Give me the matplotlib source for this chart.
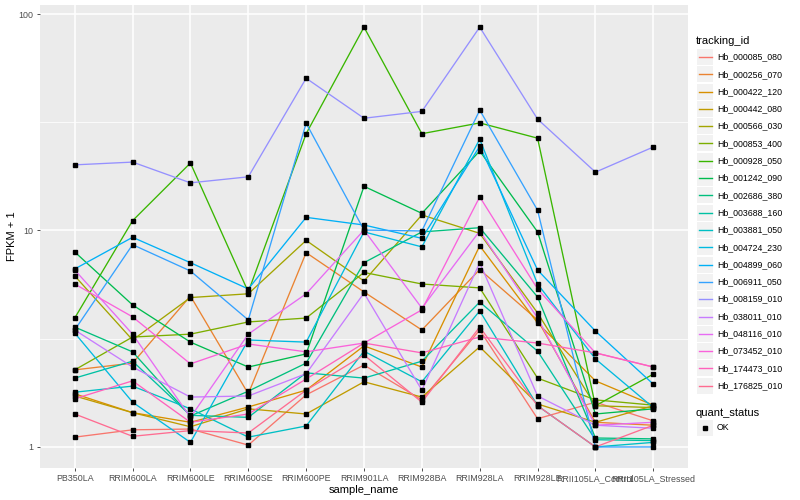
import numpy as np
import matplotlib
matplotlib.use("Agg")
import matplotlib.pyplot as plt
from matplotlib.lines import Line2D
from matplotlib.patches import Rectangle

plt.rcParams["font.family"] = ["Liberation Sans", "DejaVu Sans"]

# sample order on the x axis
samples = ["PB350LA", "RRIM600LA", "RRIM600LE", "RRIM600SE", "RRIM600PE",
           "RRIM901LA", "RRIM928BA", "RRIM928LA", "RRIM928LE",
           "RRII105LA_Control", "RRII105LA_Stressed"]

genes = ["Hb_000085_080", "Hb_000256_070", "Hb_000422_120", "Hb_000442_080",
         "Hb_000566_030", "Hb_000853_400", "Hb_000928_050", "Hb_001242_090",
         "Hb_002686_380", "Hb_003688_160", "Hb_003881_050", "Hb_004724_230",
         "Hb_004899_060", "Hb_006911_050", "Hb_008159_010", "Hb_038011_010",
         "Hb_048116_010", "Hb_073452_010", "Hb_174473_010", "Hb_176825_010"]

# ggplot default hue palette for 20 levels
colors = ["#F8766D", "#EA8331", "#D89000", "#C09B00", "#A3A500", "#7CAE00",
          "#39B600", "#00BB4E", "#00BF7D", "#00C1A3", "#00BFC4", "#00BAE0",
          "#00B0F6", "#35A2FF", "#9590FF", "#C77CFF", "#E76BF3", "#FA62DB",
          "#FF62BC", "#FF6C91"]

# FPKM + 1 per gene (one value per sample)
hb_000085_080 = [1.11, 1.20, 1.21, 1.02, 1.74, 2.39, 1.65, 3.47, 1.35, 1.61, 1.32]
hb_000256_070 = [2.27, 2.44, 4.98, 1.76, 7.90, 5.20, 3.47, 6.60, 3.86, 1.30, 1.26]
hb_000422_120 = [1.76, 1.44, 1.30, 1.53, 1.83, 2.93, 2.34, 8.50, 3.74, 2.02, 1.56]
hb_000442_080 = [1.72, 1.44, 1.24, 1.50, 1.42, 2.00, 1.70, 2.90, 1.58, 1.30, 1.55]
hb_000566_030 = [6.17, 3.12, 4.90, 5.10, 9.00, 5.84, 11.8, 9.70, 4.16, 1.55, 1.52]
hb_000853_400 = [2.27, 3.22, 3.32, 3.78, 3.94, 6.40, 5.66, 5.43, 2.08, 1.65, 1.56]
hb_000928_050 = [3.94, 11.1, 20.5, 5.20, 28.0, 87.0, 28.0, 31.4, 26.7, 1.55, 2.17]
hb_001242_090 = [7.96, 4.53, 3.05, 2.34, 2.69, 16.0, 12.0, 23.3, 9.85, 1.42, 1.50]
hb_002686_380 = [3.58, 2.75, 1.39, 1.81, 2.44, 7.10, 9.85, 10.3, 4.93, 1.10, 1.09]
hb_003688_160 = [2.08, 2.49, 1.40, 1.37, 2.20, 2.08, 2.49, 4.67, 2.77, 1.08, 1.07]
hb_003881_050 = [1.79, 1.91, 1.50, 1.11, 1.25, 2.77, 2.00, 4.25, 1.55, 1.00, 1.05]
hb_004724_230 = [3.36, 1.61, 1.05, 3.12, 3.05, 9.85, 8.40, 26.4, 5.66, 2.55, 1.52]
hb_004899_060 = [6.64, 9.30, 7.10, 5.37, 11.5, 10.6, 9.20, 24.5, 6.57, 3.43, 1.95]
hb_006911_050 = [3.47, 8.60, 6.50, 3.86, 31.3, 10.05, 9.95, 36.0, 12.4, 1.00, 1.00]
hb_008159_010 = [20.1, 20.7, 16.6, 17.7, 50.5, 33.0, 35.5, 87.0, 32.7, 18.6, 24.3]
hb_038011_010 = [3.47, 2.34, 1.70, 1.72, 2.18, 5.14, 1.83, 7.10, 1.72, 1.26, 1.22]
hb_048116_010 = [6.57, 3.32, 1.37, 3.32, 5.10, 10.05, 4.38, 9.95, 3.94, 1.26, 1.30]
hb_073452_010 = [5.66, 3.99, 2.42, 2.99, 2.75, 3.02, 4.30, 14.3, 5.37, 2.72, 2.34]
hb_174473_010 = [1.67, 2.02, 1.30, 1.42, 2.06, 3.02, 2.72, 3.22, 3.02, 2.72, 2.34]
hb_176825_010 = [1.42, 1.12, 1.19, 1.16, 1.83, 2.66, 1.61, 3.58, 1.55, 1.00, 1.26]

values = [hb_000085_080, hb_000256_070, hb_000422_120, hb_000442_080,
          hb_000566_030, hb_000853_400, hb_000928_050, hb_001242_090,
          hb_002686_380, hb_003688_160, hb_003881_050, hb_004724_230,
          hb_004899_060, hb_006911_050, hb_008159_010, hb_038011_010,
          hb_048116_010, hb_073452_010, hb_174473_010, hb_176825_010]

W, H = 800, 500
fig = plt.figure(figsize=(8, 5), dpi=100)
# panel in pixel coords: left 40, right 688, top 5, bottom 468
ax = fig.add_axes([40 / W, 1 - 468 / H, 648 / W, 463 / H])
ax.set_facecolor("#EBEBEB")

x = np.arange(1, len(samples) + 1)
for vals, col in zip(values, colors):
    ax.plot(x, vals, color=col, lw=0.95, zorder=2)
for vals in values:
    ax.plot(x, vals, ls="none", marker="s", ms=2.2, color="black", zorder=3)

ax.set_yscale("log")
lo, hi = np.log10(1.0), np.log10(88.0)
pad = (hi - lo) * 0.05
ax.set_ylim(10 ** (lo - pad), 10 ** (hi + pad))
ax.set_xlim(0.4, len(samples) + 0.6)

ax.set_yticks([1, 10, 100])
ax.set_yticklabels(["1", "10", "100"])
ax.set_yticks([10 ** 0.5, 10 ** 1.5], minor=True)
ax.yaxis.set_minor_formatter(matplotlib.ticker.NullFormatter())
ax.set_xticks(x)
ax.set_xticklabels(samples)

ax.grid(which="major", color="white", lw=1.1, zorder=0)
ax.grid(which="minor", axis="y", color="white", lw=0.55, zorder=0)
ax.set_axisbelow(True)
for s in ax.spines.values():
    s.set_visible(False)
ax.tick_params(which="major", length=2.5, width=0.6, color="#333333",
               labelsize=6.4, labelcolor="#4D4D4D", pad=2)
ax.tick_params(which="minor", length=0)

ax.set_xlabel("sample_name", fontsize=8, labelpad=1)
ax.set_ylabel("FPKM + 1", fontsize=8, labelpad=1)

# legend drawn by hand, pixel positions
def fx(px):
    return px / W

def fy(py):
    return 1 - py / H

fig.text(fx(696), fy(41), "tracking_id", fontsize=8, va="center", ha="left")
for i, (g, col) in enumerate(zip(genes, colors)):
    yc = 57 + i * 17.3
    fig.patches.append(Rectangle((fx(697), fy(yc + 8)), 16 / W, 16 / H,
                                 transform=fig.transFigure,
                                 facecolor="#F2F2F2", edgecolor="none"))
    fig.lines.append(Line2D([fx(698.5), fx(711.5)], [fy(yc), fy(yc)],
                            transform=fig.transFigure, color=col, lw=1.0))
    fig.text(fx(717), fy(yc), g, fontsize=6.3, va="center", ha="left")

fig.text(fx(696), fy(413), "quant_status", fontsize=8, va="center", ha="left")
fig.patches.append(Rectangle((fx(697), fy(436)), 16 / W, 16 / H,
                             transform=fig.transFigure,
                             facecolor="#F2F2F2", edgecolor="none"))
fig.lines.append(Line2D([fx(705)], [fy(428)], transform=fig.transFigure,
                        marker="s", ms=2.2, color="black", ls="none"))
fig.text(fx(717), fy(428), "OK", fontsize=6.3, va="center", ha="left")

fig.savefig("out.png", dpi=100)
